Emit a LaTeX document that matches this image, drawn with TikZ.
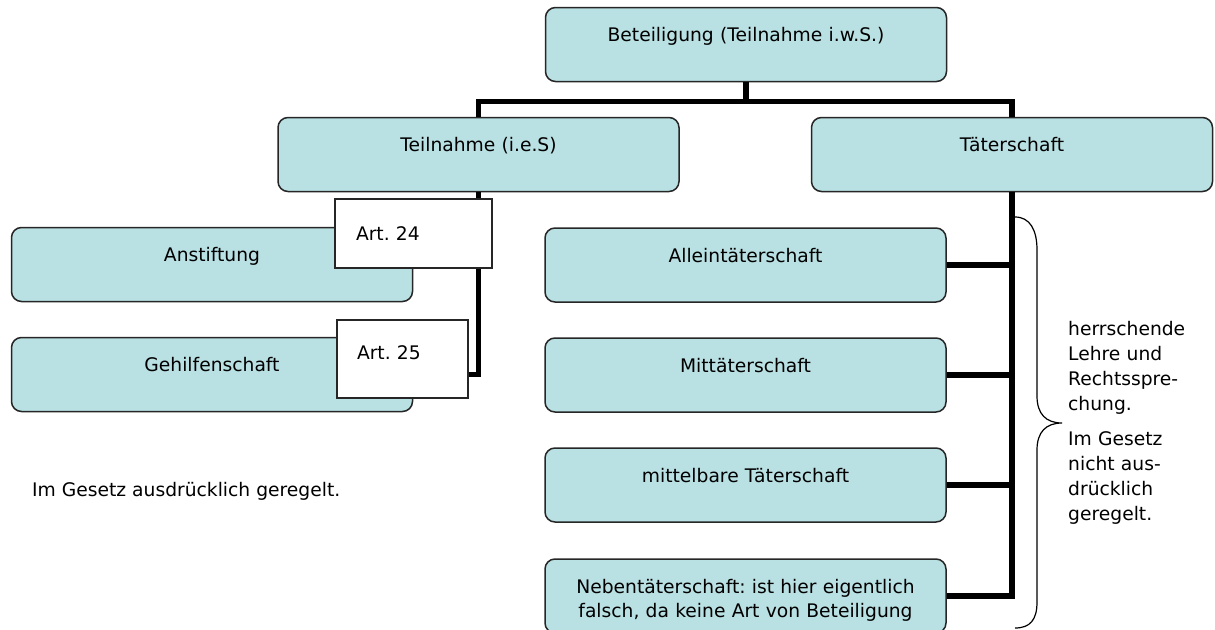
\documentclass[tikz,border=0pt]{standalone}
\usepackage{fontspec}
\setmainfont{DejaVu Sans}
\usepackage{tikz}
\frenchspacing

\definecolor{boxfill}{RGB}{185,224,227}

\tikzset{
  box/.style={draw=black!85, line width=1.5pt, fill=boxfill, rounded corners=10pt,
    text width=401pt, align=center, inner xsep=0pt, inner ysep=0pt,
    text height=34pt, text depth=40pt, font=\fontsize{18.7}{24}\selectfont},
  artbox/.style={draw=black!85, line width=1.5pt, fill=white, align=left,
    inner ysep=0pt, font=\fontsize{18.7}{24}\selectfont},
  link/.style={line width=5.5pt},
  note/.style={align=left, inner sep=0pt, font=\fontsize{18.7}{25}\selectfont}
}

\begin{document}
\begin{tikzpicture}[x=1pt,y=-1pt]
		\useasboundingbox (0,0) rectangle (1215,629);
		% top level
		\node[box] (top) at (746,44.5) {Beteiligung (Teilnahme i.w.S.)};
		\node[box] (teil) at (478.5,154.5) {Teilnahme (i.e.S)};
		\node[box] (taet) at (1012,154.5) {Täterschaft};
		% left column
		\node[box] (anst) at (212,264.5) {Anstiftung};
		\node[box] (gehilf) at (212,374.5) {Gehilfenschaft};
		% right column
		\node[box] (allein) at (745.5,265) {Alleintäterschaft};
		\node[box] (mitt) at (745.5,375) {Mittäterschaft};
		\node[box] (mittelb) at (745.5,485) {mittelbare Täterschaft};
		\node[box] (neben) at (745.5,596) {Nebentäterschaft: ist hier eigentlich\\falsch, da keine Art von Beteiligung};
		% connectors
		\draw[link] (top.south) -- ++(0,19) -| (teil.north);
		\draw[link] (top.south) -- ++(0,19) -| (taet.north);
		\draw[link] (teil.south) |- (anst.east);
		\draw[link] (teil.south) |- (gehilf.east);
		\foreach \n in {allein,mitt,mittelb,neben}
			\draw[link] (taet.south) |- (\n.east);
		% article boxes
		\node[artbox, text width=115pt, inner xsep=21pt, text height=41pt, text depth=28pt] (art24) at (413.5,233.5) {Art. 24};
		\node[artbox, text width=91pt, inner xsep=20pt, text height=39pt, text depth=39pt] (art25) at (402.5,359) {Art. 25};
		% brace and notes
		\draw[line width=1.2pt] (1015,217) .. controls (1030,217) and (1037,230) .. (1037,250)
			-- (1037,396) .. controls (1037,414) and (1046,423) .. (1062,423)
			.. controls (1046,423) and (1037,432) .. (1037,450)
			-- (1037,602) .. controls (1037,620) and (1030,628) .. (1015,628);
		\node[note, text width=140pt, anchor=base west] (lehre) at (1068,335)
			{herrschende\\Lehre und\\Rechtsspre-\\chung.\\[10pt]Im Gesetz\\nicht aus-\\drücklich\\geregelt.};
		\node[note, anchor=base west] (gesetz) at (32,496) {Im Gesetz ausdrücklich geregelt.};
	\end{tikzpicture}
\end{document}
